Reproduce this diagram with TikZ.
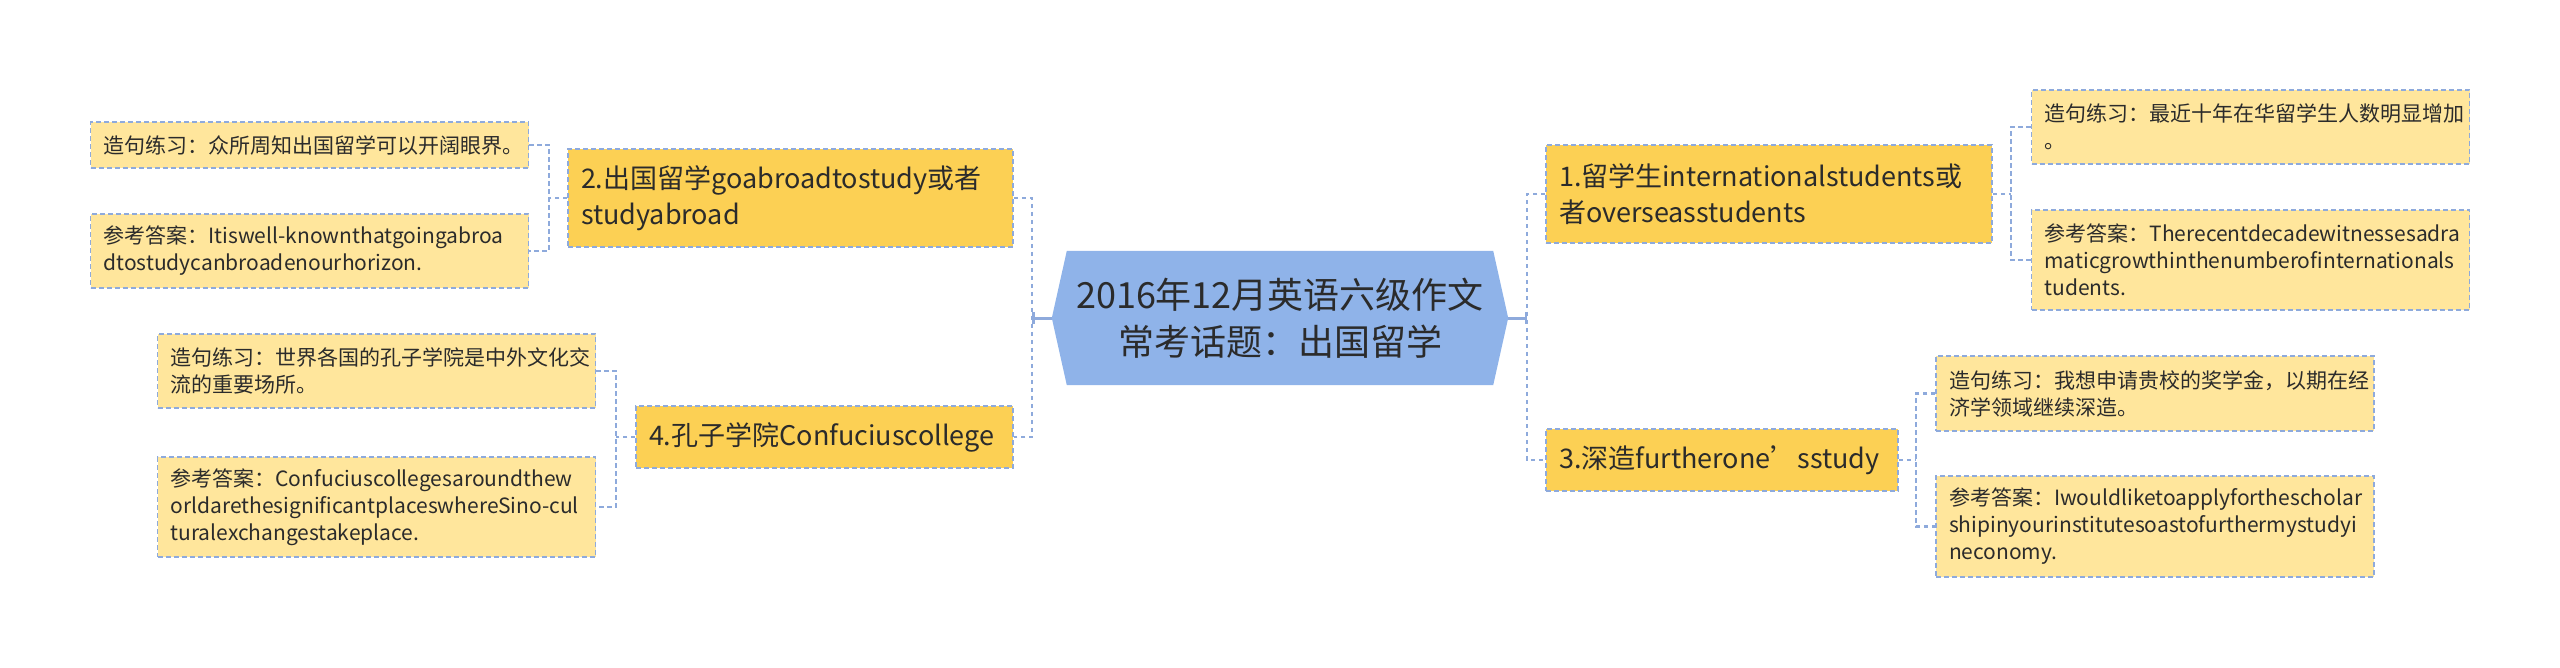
\documentclass[tikz,border=0pt]{standalone}
\usepackage{fontspec}
\setmainfont{Noto Sans CJK SC}
\usetikzlibrary{arrows.meta}
\definecolor{cfill}{HTML}{8FB3E9}
\definecolor{bfill}{HTML}{FCD054}
\definecolor{lfill}{HTML}{FFE69C}
\definecolor{lline}{HTML}{8EAADC}
\definecolor{txt}{HTML}{2B2B2B}
\tikzset{
  leafbox/.style={rectangle, fill=lfill, draw=lline, line width=1.5pt, dash pattern=on 5pt off 3pt,
    inner xsep=13pt, inner ysep=0pt, text width=412pt, align=left, text=txt,
    font=\fontsize{21}{27}\selectfont},
  branchbox/.style={rectangle, fill=bfill, draw=lline, line width=1.5pt, dash pattern=on 5pt off 3pt,
    inner xsep=13pt, inner ysep=0pt, align=left, text=txt,
    font=\fontsize{27}{36}\selectfont},
  conn/.style={draw=lline, line width=2.5pt, dash pattern=on 4.5pt off 3.5pt},
  mainconn/.style={draw=lline, line width=3pt, -{Bar[width=12pt,line width=2.5pt]}},
}
\begin{document}
\begin{tikzpicture}[x=1pt,y=-1pt]
\useasboundingbox (0,0) rectangle (2560,667);
% central
\node[rectangle, minimum width=456pt, minimum height=134pt, inner sep=0pt] (c) at (1280,318) {};
\fill[cfill] (c.west) -- ([xshift=15pt]c.north west) -- ([xshift=-15pt]c.north east) -- (c.east)
  -- ([xshift=-15pt]c.south east) -- ([xshift=15pt]c.south west) -- cycle;
\node[align=center, text=txt, font=\fontsize{36}{47}\selectfont] (ct) at (c.center) {2016年12月英语六级作文\\常考话题：出国留学};
% branches
\node[branchbox, text width=420pt, minimum height=98pt] (n1) at (1769,194) {1.留学生internationalstudents或\\者overseasstudents};
\node[branchbox, text width=419pt, minimum height=98pt] (n2) at (790.5,198) {2.出国留学goabroadtostudy或者\\studyabroad};
\node[branchbox, text width=326pt, minimum height=62pt] (n3) at (1722,460) {3.深造furtherone’sstudy};
\node[branchbox, text width=351pt, minimum height=62pt] (n4) at (824.5,437) {4.孔子学院Confuciuscollege};
% leaves
\node[leafbox, minimum height=46pt] (l2a) at (309.5,145) {造句练习：众所周知出国留学可以开阔眼界。};
\node[leafbox, minimum height=74pt] (l2b) at (309.5,251) {参考答案：Itiswell-knownthatgoingabroa\\dtostudycanbroadenourhorizon.};
\node[leafbox, minimum height=74pt] (l4a) at (376.5,371) {造句练习：世界各国的孔子学院是中外文化交\\流的重要场所。};
\node[leafbox, minimum height=100pt] (l4b) at (376.5,507) {参考答案：Confuciuscollegesaroundthew\\orldarethesignificantplaceswhereSino-cul\\turalexchangestakeplace.};
\node[leafbox, minimum height=74pt] (r1a) at (2250.5,127) {造句练习：最近十年在华留学生人数明显增加\\。};
\node[leafbox, minimum height=100pt] (r1b) at (2250.5,260) {参考答案：Therecentdecadewitnessesadra\\maticgrowthinthenumberofinternationals\\tudents.};
\node[leafbox, minimum height=75pt] (r3a) at (2155,393.5) {造句练习：我想申请贵校的奖学金，以期在经\\济学领域继续深造。};
\node[leafbox, minimum height=101pt] (r3b) at (2155,526.5) {参考答案：Iwouldliketoapplyforthescholar\\shipinyourinstitutesoastofurthermystudyi\\neconomy.};
% junctions
\coordinate (cL) at (1032,318);
\coordinate (cR) at (1527,318);
\coordinate (j2) at (549,198);
\coordinate (j4) at (616,437);
\coordinate (j1) at (2011,194);
\coordinate (j3) at (1916,460);
% connectors
\draw[conn] (n2.east) -| (cL) |- (n4.east);
\draw[conn] (n1.west) -| (cR) |- (n3.west);
\draw[mainconn] (c.west) -- (cL);
\draw[mainconn] (c.east) -- (cR);
\draw[conn] (n2.west) -- (j2);
\draw[conn] (l2a.east) -| (j2) |- (l2b.east);
\draw[conn] (n4.west) -- (j4);
\draw[conn] (l4a.east) -| (j4) |- (l4b.east);
\draw[conn] (n1.east) -- (j1);
\draw[conn] (r1a.west) -| (j1) |- (r1b.west);
\draw[conn] (n3.east) -- (j3);
\draw[conn] (r3a.west) -| (j3) |- (r3b.west);
\end{tikzpicture}
\end{document}
